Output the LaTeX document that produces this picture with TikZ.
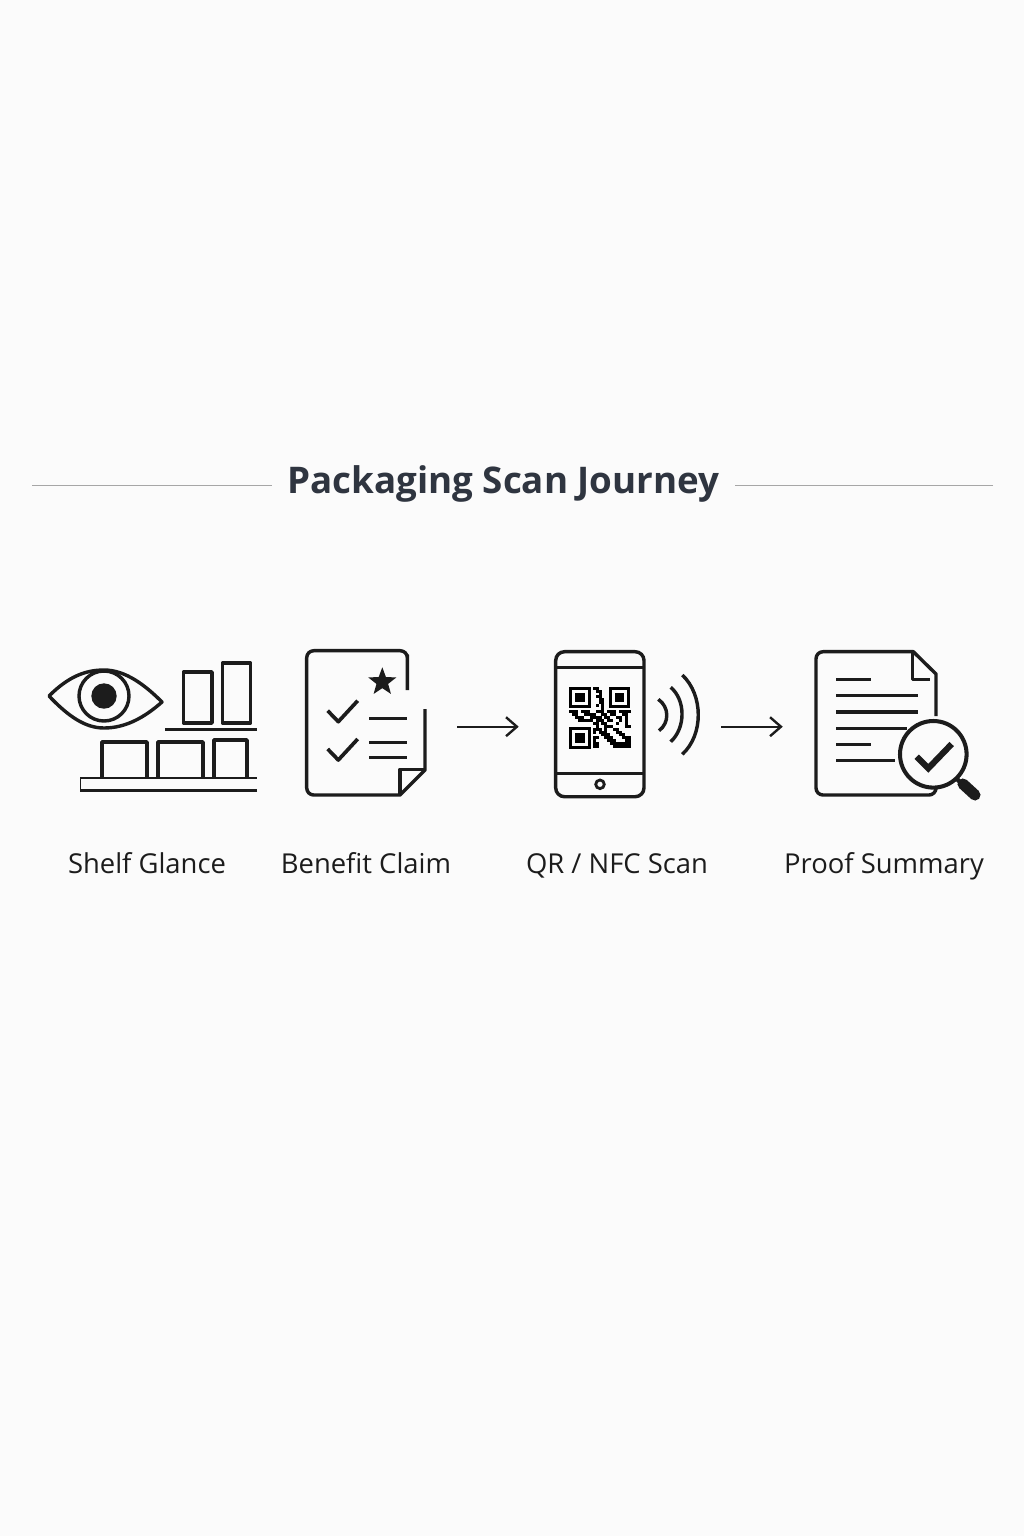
\documentclass[tikz,border=0pt]{standalone}
\usepackage{fontspec}
\setmainfont{Open Sans}
\usepackage{xcolor}
\usetikzlibrary{arrows.meta,shapes.geometric}
\definecolor{paper}{HTML}{FBFBFB}
\definecolor{ink}{HTML}{1C1C1C}
\definecolor{slate}{HTML}{2F3540}
\definecolor{rulegray}{HTML}{A6A6A6}
\tikzset{
  iconline/.style={line width=1.95pt, draw=ink, line join=round},
  thinline/.style={line width=1.6pt, draw=ink},
  iconbox/.style={minimum height=146*0.567pt, inner sep=0pt, outer sep=0pt},
  caption/.style={font=\fontsize{15.6pt}{18pt}\selectfont, text=ink, inner sep=0pt, anchor=base},
  flowarrow/.style={-{Straight Barb[length=6.2pt,width=10.8pt,line width=1.35pt]}, line width=1.35pt, draw=ink},
  ruleline/.style={line width=0.5pt, draw=rulegray}
}
\begin{document}
\begin{tikzpicture}[x=0.02cm, y=-0.02cm]
    \useasboundingbox[fill=paper] (0,0) rectangle (1024,1536);
    \node[font=\fontsize{20.9pt}{26pt}\selectfont\bfseries, text=slate, inner xsep=8.5pt, inner ysep=0pt, anchor=base] (headline) at (503.5,493) {Packaging Scan Journey};
    \coordinate (ruleL) at (32,485);
    \coordinate (ruleR) at (993,485);
    \draw[ruleline] (ruleL) -- (ruleL -| headline.west);
    \draw[ruleline] (ruleR) -- (ruleR -| headline.east);

    \node[iconbox, minimum width=120*0.567pt] (claimIcon) at (366,726.7) {};
    \node[iconbox, minimum width=142.6*0.567pt] (scanIcon) at (627,726.7) {};
    \node[iconbox, minimum width=164*0.567pt] (proofIcon) at (898,726.7) {};
    \draw[flowarrow, shorten <=18pt, shorten >=21.2pt] (claimIcon) -- (scanIcon);
    \draw[flowarrow, shorten <=13.2pt, shorten >=19.1pt] (scanIcon) -- (proofIcon);

    \draw[iconline] (49,696) .. controls (68,677) and (85,670) .. (104,670) .. controls (126,670) and (146,686) .. (162,702) .. controls (145,717) and (126,728) .. (104,728) .. controls (85,728) and (68,716) .. (49,696) -- cycle;
    \draw[iconline] (104,696) circle[radius=25];
    \fill[ink] (104,696) circle[radius=12.7];
    \draw[iconline] (183.5,723) rectangle (212,672);
    \draw[iconline] (222.5,723) rectangle (250.5,663);
    \draw[thinline] (165,729.5) -- (257,729.5);
    \foreach \xa/\xb/\ytop in {102/147/742, 158/203/742, 214/247/740}
      \draw[iconline] (\xa,778) -- (\xa,\ytop) -- (\xb,\ytop) -- (\xb,778);
    \draw[thinline] (80,778) -- (257,778);
    \draw[iconline] (257,790.7) -- (80,790.7);
    \draw[line width=0.5pt, draw=ink] (80,778) -- (80,790.7);

    \draw[iconline] (407.3,690) -- (407.3,655) [rounded corners=4pt] -- (407.3,650.7) -- (306.7,650.7) -- (306.7,795) [sharp corners] -- (400,795) -- (425,770) -- (425,709);
    \draw[iconline] (400,795) -- (400,769.3) -- (425,769.3);
    \node[star, star points=5, star point ratio=2.4, fill=ink, inner sep=0pt, minimum size=16.8pt] (claimStar) at (382.3,682) {};
    \foreach \yy in {0,38.3}
      \draw[iconline, line width=2.1pt] (327.7,710.7+\yy) -- (338.3,721.7+\yy) -- (357.7,700.7+\yy);
    \foreach \yy in {718.3,742.3,757.7}
      \draw[iconline] (369.3,\yy) -- (407.3,\yy);

    \draw[iconline, rounded corners=5pt] (555.7,651.7) rectangle (644,796.7);
    \draw[thinline] (555.7,667.3) -- (644,667.3);
    \draw[thinline] (555.7,773.3) -- (644,773.3);
    \draw[thinline] (600,784.3) circle[radius=4.3];
    \foreach \xx/\yy in {569.3/686.7, 608.9/686.7, 569.3/727.3} {
      \draw[line width=1.75pt, draw=black] (\xx+1.5,\yy+1.5) rectangle (\xx+19.8,\yy+19.8);
      \fill[black] (\xx+6,\yy+6) rectangle (\xx+15.3,\yy+15.3);
    }
    \foreach \rr/\cols in {0/{8,9},1/{9,10},2/{10},3/{9,10},4/{10,11},5/{10,11},6/{9,11},7/{11},
      8/{0,1,2,4,5,6,9,10,11,13,14,15,17,18,19,20},9/{1,2,5,6,7,8,11,12,14,15,18,19},
      10/{2,3,4,7,8,9,10,12,13,16,17,19},11/{3,4,5,6,7,9,10,11,13,14,17,19},
      12/{8,9,11,12,16,19},13/{9,12,13,14,19,20},14/{8,9,10,12,15,16},15/{8,10,11,12,16,17},
      16/{11,12,13,17,18},17/{8,9,12,13,14,18,19,20},18/{8,13,14,15,19,20},
      19/{8,9,14,15,16,17,18,19,20},20/{8,9,15,16,17,18,19,20}}
      \foreach \cc in \cols
        \fill[black] (569.3+\cc*2.92,686.7+\rr*2.92) rectangle +(3,3);
    \draw[iconline] (658.3,699.3) .. controls (669.5,707) and (669.5,723) .. (659,730.7);
    \draw[iconline] (670.7,687.3) .. controls (685.8,700) and (685.8,728) .. (670.7,741.7);
    \draw[iconline] (682.3,675) .. controls (703.6,695) and (703.6,735) .. (682.3,754.3);

    \draw[iconline] (936,716) -- (936,674) -- (913.3,651.7) [rounded corners=4pt] -- (816,651.7) -- (816,795) -- (936,795) [sharp corners] -- (936,790);
    \draw[iconline] (912.3,651.7) -- (912.3,679.3) -- (930,679.3);
    \foreach \yy/\xend in {679.3/870.7, 695.7/918.3, 712/918.3, 728.3/906.7, 744.7/870.7, 760.7/895}
      \draw[iconline] (836,\yy) -- (\xend,\yy);
    \draw[line width=2.3pt, draw=ink, fill=paper] (933.3,754.3) circle[radius=33.3];
    \draw[line width=3.5pt, draw=ink, line join=miter] (916.7,756.7) -- (928.3,768.3) -- (951.7,744);
    \draw[line width=6.3pt, draw=ink, line cap=round] (963,784) -- (975,795);
    \draw[line width=2.5pt, draw=ink] (956,778) -- (962,784);

    \node[caption] (shelfLabel) at (147,873) {Shelf Glance};
    \node[caption] (claimLabel) at (366,873) {Benefit Claim};
    \node[caption] (scanLabel) at (617,873) {QR / NFC Scan};
    \node[caption] (proofLabel) at (884,873) {Proof Summary};
  \end{tikzpicture}
\end{document}
